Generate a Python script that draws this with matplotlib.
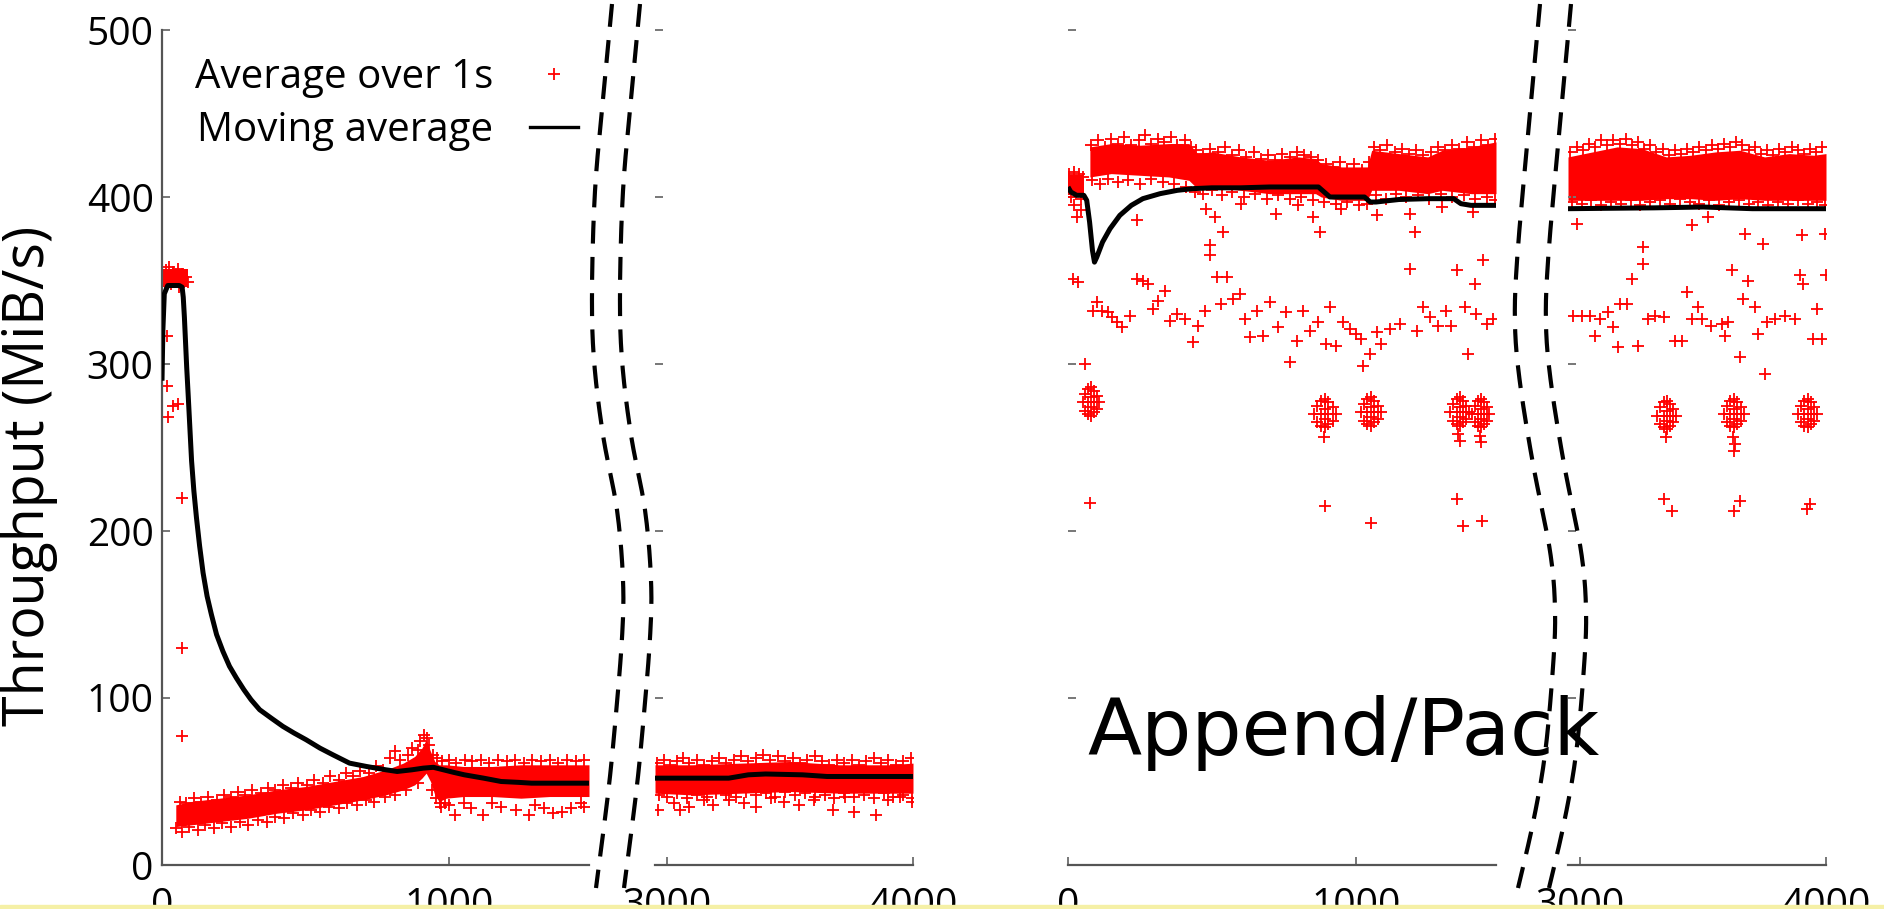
import matplotlib
matplotlib.use("Agg")
import matplotlib.pyplot as plt
from matplotlib.lines import Line2D
from matplotlib.patches import Rectangle
import numpy as np

plt.rcParams['font.family'] = ['Open Sans', 'DejaVu Sans']

# ---------------- data ----------------
yticks = [0, 100, 200, 300, 400, 500]
seg1_xticks = [0, 1000]
seg2_xticks = [3000, 4000]
seg1_xlim = (0, 1487)
seg2_xlim = (2950, 4000)

# left panel, 0..1500 s
left1_ma_x = [0, 3, 8, 20, 40, 60, 70, 74, 78, 82, 86, 91, 97, 103, 111, 120, 131, 143, 157, 172,
              190, 212, 235, 259, 285, 310, 340, 380, 421, 460, 502, 550, 595, 653, 712, 780, 819,
              870, 910, 945, 980, 1015, 1053, 1120, 1181, 1240, 1287, 1380, 1487]
left1_ma_y = [290, 320, 342, 347, 347, 347, 346, 340, 328, 313, 298, 282, 262, 242, 224, 208, 191,
              175, 161, 150, 138, 128, 119, 112, 105, 99, 93, 88, 83, 79, 75, 70, 66, 61, 59, 57,
              56, 57, 58, 58.5, 57, 55.5, 54, 52, 50, 49.5, 49, 49, 49]
left1_top_x = [0, 45, 90]
left1_top_lo = [346, 346, 346]
left1_top_hi = [357, 357, 357]
left1_band_x = [48, 100, 200, 300, 400, 500, 600, 700, 780, 840, 880, 905, 920, 935, 950, 965,
                990, 1050, 1150, 1250, 1350, 1487]
left1_band_lo = [23, 24, 26, 28, 31, 33, 36, 39, 42, 45, 48, 52, 55, 50, 42, 38, 40, 41, 41, 40,
                 41, 41]
left1_band_hi = [36, 38, 40, 42, 45, 47, 50, 53, 57, 61, 65, 70, 75, 68, 62, 60, 60, 59, 59, 60,
                 60, 60]
left1_pts = [(16, 317), (16, 287), (39, 275), (57, 276), (22, 268), (71, 220), (71, 130), (71, 77),
             (5, 352), (15, 356), (25, 358), (40, 355), (55, 357), (70, 354), (85, 352), (90, 349),
             (10, 347), (30, 348), (60, 346),
             (62, 38), (85, 37), (110, 40), (135, 38), (160, 41), (190, 39), (215, 42), (240, 41),
             (265, 44), (290, 42), (315, 45), (345, 43), (370, 46), (395, 45), (420, 48),
             (450, 46), (475, 49), (505, 48), (530, 51), (560, 49), (585, 53), (615, 51),
             (640, 55), (665, 53), (690, 56), (720, 55), (745, 59), (770, 57), (795, 64),
             (810, 68), (830, 63), (855, 66), (872, 70), (890, 69), (900, 74), (912, 78),
             (922, 76), (930, 72), (945, 66), (958, 64), (975, 62), (1000, 63), (1025, 61),
             (1055, 63), (1080, 62), (1110, 63), (1140, 61), (1170, 63), (1200, 62), (1230, 63),
             (1260, 61), (1290, 63), (1320, 62), (1350, 63), (1380, 61), (1410, 63), (1440, 62),
             (1470, 63),
             (50, 22), (70, 20), (95, 23), (125, 21), (150, 24), (180, 22), (210, 25), (240, 23),
             (270, 26), (300, 24), (335, 27), (365, 26), (395, 29), (425, 28), (455, 31),
             (490, 30), (520, 33), (550, 32), (580, 35), (615, 34), (645, 37), (680, 36),
             (710, 39), (740, 38), (775, 41), (810, 42), (850, 45), (890, 49), (940, 45),
             (955, 40), (970, 35), (985, 37),
             (1021, 30), (1075, 34), (1118, 30), (1181, 35), (1234, 33), (1277, 30), (1362, 31),
             (1394, 32), (1426, 34), (1458, 37), (1470, 35), (968, 37), (1000, 36), (1050, 37),
             (1150, 37), (1300, 36), (1330, 34)]

# left panel, 3000..4000 s
left2_ma_x = [2950, 3250, 3330, 3400, 3550, 3650, 4000]
left2_ma_y = [52, 52, 54, 54.5, 54, 53, 53]
left2_band_x = [2950, 3100, 3300, 3500, 3700, 3900, 4000]
left2_band_lo = [43, 42, 43, 44, 43, 43, 43]
left2_band_hi = [60, 60, 61, 62, 60, 60, 61]
left2_pts = [(2958, 61), (2985, 63), (3010, 60), (3040, 62), (3065, 64), (3090, 61), (3120, 63),
             (3150, 60), (3180, 62), (3210, 64), (3240, 61), (3270, 63), (3300, 65), (3330, 62),
             (3360, 64), (3390, 66), (3420, 63), (3450, 65), (3480, 62), (3510, 64), (3540, 61),
             (3570, 63), (3600, 65), (3630, 62), (3660, 60), (3690, 63), (3720, 61), (3750, 63),
             (3780, 60), (3810, 62), (3840, 64), (3870, 61), (3900, 63), (3930, 60), (3960, 62),
             (3990, 64),
             (2965, 42), (3000, 41), (3040, 43), (3080, 40), (3120, 42), (3160, 41), (3200, 43),
             (3240, 42), (3280, 41), (3320, 44), (3360, 42), (3400, 43), (3440, 41), (3480, 44),
             (3520, 42), (3560, 43), (3600, 41), (3640, 42), (3680, 40), (3720, 43), (3760, 41),
             (3800, 42), (3840, 40), (3880, 43), (3920, 41), (3960, 42), (3995, 40),
             (2962, 33), (3026, 37), (3088, 35), (3149, 39), (3186, 36), (3250, 39), (3312, 37),
             (3361, 35), (3424, 40), (3474, 38), (3535, 36), (3598, 39), (3673, 33), (3760, 32),
             (3848, 30), (3897, 39), (3946, 41), (3995, 38), (3722, 41), (3052, 33)]

# right panel, 0..1500 s
right1_ma_x = [0, 10, 30, 55, 65, 75, 85, 92, 100, 120, 146, 180, 220, 260, 320, 380, 434, 500,
               600, 700, 800, 870, 890, 910, 960, 1030, 1050, 1070, 1150, 1250, 1340, 1365,
               1400, 1487]
right1_ma_y = [406, 403, 401, 401, 398, 385, 368, 361, 364, 373, 381, 389, 395, 399, 402, 404,
               405, 405.5, 405.5, 406, 406, 406, 403, 400, 400, 400, 397, 397, 398.5, 399, 399,
               396, 395, 395]
right1_top_x = [0, 30, 55]
right1_top_lo = [401, 401, 401]
right1_top_hi = [413, 413, 413]
right1_band_x = [76, 150, 250, 350, 420, 450, 500, 600, 700, 800, 860, 880, 950, 1040, 1055,
                 1150, 1250, 1300, 1400, 1487]
right1_band_lo = [412, 414, 413, 412, 410, 405, 406, 404, 402, 402, 402, 400, 398, 398, 404, 404,
                  402, 404, 402, 402]
right1_band_hi = [430, 432, 431, 432, 432, 426, 427, 424, 422, 424, 423, 420, 418, 418, 428, 426,
                  424, 428, 430, 433]
right1_pts = [(18, 351), (36, 349), (59, 300), (100, 337), (88, 332), (117, 332), (140, 331),
              (152, 328), (169, 325), (186, 322), (215, 329), (238, 386), (238, 351), (262, 350),
              (279, 348), (296, 333), (313, 338), (337, 344), (354, 326), (377, 330), (406, 327),
              (435, 313), (452, 323), (476, 332), (493, 371), (493, 365), (516, 352), (539, 379),
              (551, 352), (533, 336), (574, 339), (597, 342), (615, 327), (632, 316), (655, 332),
              (678, 317), (701, 337), (730, 322), (759, 331), (771, 301), (794, 314), (817, 332),
              (840, 320), (869, 325), (875, 379), (898, 312), (909, 334), (932, 311), (956, 325),
              (979, 321), (1002, 318), (1025, 299), (1019, 315), (1049, 306), (1072, 319),
              (1089, 312), (1118, 321), (1153, 324), (1187, 357), (1205, 379), (1211, 320),
              (1234, 334), (1257, 328), (1286, 323), (1315, 332), (1332, 323), (1350, 356),
              (1379, 334), (1390, 306), (1413, 348), (1419, 330), (1442, 362), (1454, 324),
              (1477, 327),
              (481, 393), (510, 388), (724, 390), (852, 388), (1187, 390), (1072, 389), (1407, 391),
              (20, 395), (45, 392), (30, 388), (600, 396), (800, 395), (950, 393), (1300, 394),
              (5, 414), (20, 415), (38, 414), (52, 412), (12, 400), (46, 399),
              # dense blobs near 270
              (52, 277), (60, 282), (60, 272), (70, 285), (70, 277), (70, 270), (80, 286),
              (80, 280), (80, 274), (80, 269), (90, 284), (90, 277), (90, 271), (100, 281),
              (100, 273), (108, 277),
              (854, 270), (865, 275), (865, 265), (879, 278), (879, 270), (879, 263), (892, 279),
              (892, 273), (892, 267), (892, 262), (905, 277), (905, 270), (905, 264), (919, 274),
              (919, 266), (930, 270), (888, 256),
              (1017, 271), (1027, 276), (1027, 266), (1040, 279), (1040, 271), (1040, 264),
              (1052, 280), (1052, 274), (1052, 268), (1052, 263), (1064, 278), (1064, 271),
              (1064, 265), (1077, 275), (1077, 267), (1087, 271),
              (1328, 271), (1338, 276), (1338, 266), (1350, 279), (1350, 271), (1350, 264),
              (1361, 280), (1361, 274), (1361, 268), (1361, 263), (1372, 278), (1372, 271),
              (1372, 265), (1384, 275), (1384, 267), (1394, 271), (1356, 258), (1362, 254),
              (1404, 270), (1413, 275), (1413, 265), (1424, 278), (1424, 270), (1424, 263),
              (1434, 279), (1434, 273), (1434, 267), (1434, 262), (1444, 277), (1444, 270),
              (1444, 264), (1455, 274), (1455, 266), (1463, 270), (1433, 257), (1436, 253),
              (76, 217), (893, 215), (1054, 205), (1350, 219), (1373, 203), (1437, 206),
              # fuzzy upper edge of the band
              (80, 431), (105, 434), (128, 430), (150, 435), (172, 432), (195, 436), (220, 431),
              (245, 434), (268, 437), (290, 432), (312, 435), (335, 433), (358, 436), (380, 431),
              (405, 434), (428, 430), (445, 428), (470, 426), (495, 429), (520, 427), (545, 430),
              (570, 425), (595, 428), (620, 424), (645, 427), (670, 423), (695, 425), (720, 422),
              (745, 426), (770, 424), (795, 427), (820, 425), (845, 424), (870, 422), (895, 420),
              (920, 418), (945, 421), (970, 417), (995, 420), (1020, 416), (1045, 421),
              (1062, 430), (1085, 428), (1110, 431), (1135, 427), (1160, 429), (1185, 426),
              (1210, 428), (1235, 425), (1260, 427), (1285, 430), (1310, 428), (1335, 431),
              (1360, 429), (1385, 433), (1410, 430), (1435, 434), (1460, 431), (1482, 435),
              # fuzzy lower edge
              (85, 410), (110, 408), (140, 411), (175, 409), (210, 410), (250, 408), (290, 411),
              (330, 409), (370, 408), (410, 406), (440, 403), (470, 402), (500, 404), (535, 401),
              (570, 403), (610, 400), (650, 402), (690, 399), (730, 401), (770, 399), (810, 400),
              (850, 398), (890, 397), (930, 396), (970, 397), (1010, 395), (1040, 396),
              (1070, 401), (1105, 399), (1140, 402), (1175, 400), (1215, 401), (1255, 399),
              (1295, 402), (1335, 400), (1375, 401), (1415, 399), (1455, 400), (1485, 398)]

# right panel, 3000..4000 s
right2_ma_x = [2950, 3300, 3500, 3700, 4000]
right2_ma_y = [393, 393.5, 394, 393, 393]
right2_band_x = [2950, 3050, 3150, 3250, 3350, 3450, 3550, 3650, 3750, 3850, 3950, 4000]
right2_band_lo = [398, 398, 398, 398, 399, 399, 398, 399, 398, 398, 398, 398]
right2_band_hi = [424, 427, 430, 429, 424, 425, 427, 428, 424, 426, 425, 426]
right2_pts = [(2986, 384), (3256, 370), (3256, 360), (3209, 351), (3189, 336), (3162, 336),
              (2972, 329), (3006, 329), (3040, 329), (3081, 327), (3114, 331), (3060, 317),
              (3134, 322), (3155, 310), (3236, 311), (3277, 327), (3305, 329), (3339, 328),
              (3386, 314), (3412, 314), (3433, 343), (3453, 327), (3481, 334), (3494, 327),
              (3534, 323), (3575, 324), (3603, 325), (3589, 317), (3617, 356), (3650, 304),
              (3664, 339), (3684, 350), (3711, 334), (3725, 318), (3751, 294), (3759, 325),
              (3792, 327), (3833, 329), (3873, 327), (3895, 353), (3908, 348), (3962, 333),
              (3948, 315), (3983, 315), (3998, 353), (3901, 377), (3997, 378), (3453, 383),
              (3521, 388), (3670, 378), (3745, 372),
              (3314, 269), (3325, 274), (3325, 264), (3339, 277), (3339, 269), (3339, 262),
              (3352, 278), (3352, 272), (3352, 266), (3352, 261), (3365, 276), (3365, 269),
              (3365, 263), (3379, 273), (3379, 265), (3390, 269), (3350, 256),
              (3585, 270), (3597, 275), (3597, 265), (3611, 278), (3611, 270), (3611, 263),
              (3625, 279), (3625, 273), (3625, 267), (3625, 262), (3639, 277), (3639, 270),
              (3639, 264), (3653, 274), (3653, 266), (3665, 270), (3622, 256), (3628, 252),
              (3624, 248),
              (3887, 270), (3898, 275), (3898, 265), (3912, 278), (3912, 270), (3912, 263),
              (3925, 279), (3925, 273), (3925, 267), (3925, 262), (3938, 277), (3938, 270),
              (3938, 264), (3952, 274), (3952, 266), (3963, 270),
              (3339, 219), (3372, 212), (3650, 218), (3624, 212), (3936, 216), (3922, 213),
              (2958, 427), (2985, 430), (3010, 428), (3035, 432), (3060, 430), (3085, 434),
              (3110, 431), (3135, 434), (3160, 432), (3185, 435), (3210, 431), (3235, 433),
              (3260, 429), (3285, 431), (3310, 427), (3335, 429), (3360, 425), (3385, 428),
              (3410, 426), (3435, 429), (3460, 427), (3485, 430), (3510, 428), (3535, 431),
              (3560, 429), (3585, 432), (3610, 430), (3635, 433), (3660, 431), (3685, 428),
              (3710, 430), (3735, 426), (3760, 428), (3785, 425), (3810, 429), (3835, 427),
              (3860, 430), (3885, 428), (3910, 426), (3935, 429), (3960, 427), (3985, 430),
              (2965, 397), (3005, 396), (3045, 398), (3085, 395), (3125, 397), (3165, 396),
              (3205, 398), (3245, 395), (3285, 397), (3325, 398), (3365, 396), (3405, 399),
              (3445, 397), (3485, 396), (3525, 398), (3565, 395), (3605, 397), (3645, 398),
              (3685, 396), (3725, 397), (3765, 395), (3805, 397), (3845, 396), (3885, 398),
              (3925, 396), (3965, 397), (3995, 395)]

# ---------------- figure ----------------
W, H = 1884, 909
fig = plt.figure(figsize=(W / 100, H / 100), dpi=100)


def box(x0, x1, y_top=30, y_bot=865):
    return [x0 / W, 1 - y_bot / H, (x1 - x0) / W, (y_bot - y_top) / H]


axes = {
    'l1': fig.add_axes(box(162, 589)),
    'l2': fig.add_axes(box(655, 913)),
    'r1': fig.add_axes(box(1068, 1496)),
    'r2': fig.add_axes(box(1568, 1826)),
}
series = {
    'l1': (left1_ma_x, left1_ma_y,
           [(left1_top_x, left1_top_lo, left1_top_hi),
            (left1_band_x, left1_band_lo, left1_band_hi)], left1_pts),
    'l2': (left2_ma_x, left2_ma_y,
           [(left2_band_x, left2_band_lo, left2_band_hi)], left2_pts),
    'r1': (right1_ma_x, right1_ma_y,
           [(right1_top_x, right1_top_lo, right1_top_hi),
            (right1_band_x, right1_band_lo, right1_band_hi)], right1_pts),
    'r2': (right2_ma_x, right2_ma_y,
           [(right2_band_x, right2_band_lo, right2_band_hi)], right2_pts),
}
red = '#ff0000'
axcol = '#555555'

for key, ax in axes.items():
    ma_x, ma_y, bands, pts = series[key]
    for bx, blo, bhi in bands:
        ax.fill_between(bx, blo, bhi, color=red, lw=0, zorder=1)
    px, py = zip(*pts)
    ax.plot(px, py, ls='none', marker='+', color=red, ms=8, mew=1.3, zorder=2)
    ax.plot(ma_x, ma_y, color='black', lw=3.6, zorder=3, solid_capstyle='butt')

    ax.set_ylim(0, 500)
    ax.set_yticks(yticks)
    first = key.endswith('1')
    ax.set_xlim(*(seg1_xlim if first else seg2_xlim))
    ax.set_xticks(seg1_xticks if first else seg2_xticks)
    for s in ['top', 'right']:
        ax.spines[s].set_visible(False)
    ax.spines['bottom'].set_color(axcol)
    ax.spines['bottom'].set_linewidth(1.6)
    if key == 'l1':
        ax.spines['left'].set_color(axcol)
        ax.spines['left'].set_linewidth(1.6)
        ax.tick_params(axis='y', labelsize=28, pad=6)
    else:
        ax.spines['left'].set_visible(False)
        ax.tick_params(axis='y', labelleft=False)
    ax.tick_params(direction='in', length=6, width=1.4, color='#777777')
    ax.tick_params(axis='x', labelsize=28, pad=16)
    ax.patch.set_alpha(0)

# legend, text first and sample after it
ax = axes['l1']
handles = [Line2D([], [], ls='none', marker='+', color=red, ms=8, mew=1.3),
           Line2D([], [], color='black', lw=2.4)]
ax.legend(handles, ['Average over 1s', 'Moving average'], loc='upper left',
          bbox_to_anchor=(0.078, 0.967), markerfirst=False, frameon=False, fontsize=29,
          handlelength=1.2, handletextpad=0.9, labelspacing=0.32, borderpad=0,
          borderaxespad=0, numpoints=1)

fig.text(30 / W, 1 - 476 / H, 'Throughput (MiB/s)', rotation=90, ha='center', va='center',
         fontsize=40)
fig.text(1087 / W, 1 - 755 / H, 'Append/Pack', ha='left', va='baseline', fontsize=57,
         family='DejaVu Sans')

# axis-break marks, drawn in pixel space over the whole figure
over = fig.add_axes([0, 0, 1, 1], zorder=10)
over.set_xlim(0, W)
over.set_ylim(H, 0)
over.axis('off')


def smooth(pts, n=16):
    p = np.array(pts, float)
    p = np.vstack([p[0], p, p[-1]])
    out = []
    t = np.linspace(0, 1, n, endpoint=False)[:, None]
    for i in range(1, len(p) - 2):
        p0, p1, p2, p3 = p[i - 1], p[i], p[i + 1], p[i + 2]
        out.append(0.5 * (2 * p1 + (-p0 + p2) * t + (2 * p0 - 5 * p1 + 4 * p2 - p3) * t ** 2
                          + (-p0 + 3 * p1 - 3 * p2 + p3) * t ** 3))
    out.append(p[-2][None])
    return np.vstack(out)


left_break = [(612, 4), (603, 99), (595, 191), (592, 290), (594, 360), (603, 435), (617, 510),
              (623, 580), (622, 638), (615, 725), (608, 794), (596, 888)]
right_break = [(1540, 4), (1527, 145), (1517, 261), (1515, 325), (1520, 383), (1533, 464),
               (1550, 551), (1555, 609), (1553, 667), (1545, 754), (1533, 823), (1518, 888)]
for pts, off in [(left_break, 28), (right_break, 31)]:
    c = smooth(pts)
    for dx in (0, off):
        over.plot(c[:, 0] + dx, c[:, 1], color='black', lw=3.0, dashes=(5.5, 3.2))

# pale strip along the bottom edge
fig.add_artist(Rectangle((0, 0), 1, 4 / H, transform=fig.transFigure, color='#f5f0a6',
                         zorder=20))

fig.savefig('out.png', dpi=100)
